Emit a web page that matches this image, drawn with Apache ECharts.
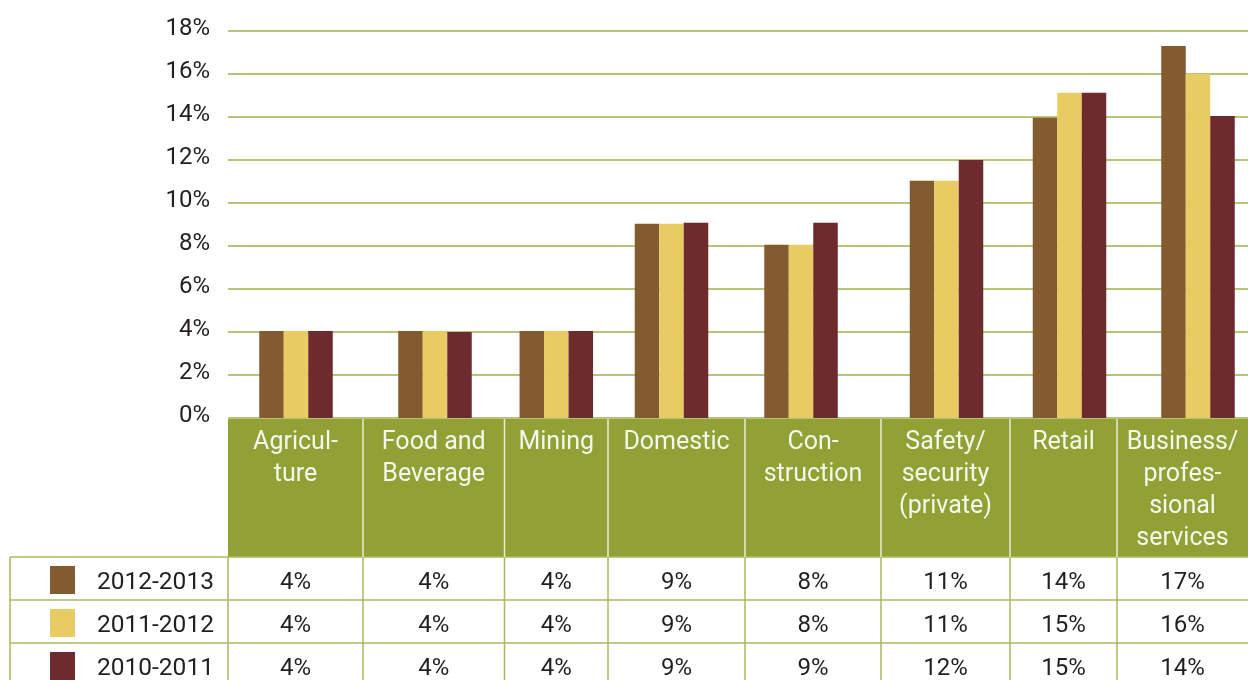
<!DOCTYPE html>
<html>
<head>
<meta charset="utf-8">
<title>Sector shares by year</title>
<script src="https://cdn.jsdelivr.net/npm/echarts@6/dist/echarts.min.js"></script>
<style>
  html, body { margin: 0; padding: 0; background: #ffffff; }
  #chart { width: 1248px; height: 680px; }
</style>
</head>
<body>
<div id="chart"></div>
<script>
// Sector labels as printed in the table header (with their hyphenation)
const categories = [
  'Agricul-\nture',
  'Food and\nBeverage',
  'Mining',
  'Domestic',
  'Con-\nstruction',
  'Safety/\nsecurity\n(private)',
  'Retail',
  'Business/\nprofes-\nsional\nservices'
];

const seriesNames = ['2012-2013', '2011-2012', '2010-2011'];

// Share of each sector, in percent
const share2012_2013 = [4.05, 4.05, 4.05, 9.04, 8.06, 11.04, 13.97, 17.3];
const share2011_2012 = [4.05, 4.05, 4.05, 9.04, 8.06, 11.04, 15.13, 16.0];
const share2010_2011 = [4.05, 4.0, 4.05, 9.08, 9.08, 12.0, 15.13, 14.05];

const yTicks = [0, 2, 4, 6, 8, 10, 12, 14, 16, 18];

// ---- layout (pixels) ----
const seriesData = [share2012_2013, share2011_2012, share2010_2011];
const colors = ['#845A2F', '#E8CB63', '#6D2B2E'];
const plotLeft = 228, plotTop = 31, plotBottom = 418, pageW = 1248;
const colEdges = [228, 363, 504.5, 608, 745, 881, 1010, 1117, 1248];
const groupCenters = [296, 435, 556.3, 671.5, 801, 946.5, 1069.5, 1198];
const headerTop = 419, headerBottom = 557, rowH = 43, tableLeft = 10;
const FONT = 'Roboto, "DejaVu Sans", sans-serif';
const green = '#91A136';
const tableLine = '#A9B860';

const chart = echarts.init(document.getElementById('chart'), null, { renderer: 'canvas' });

const grids = [];
const xAxes = [];
const yAxes = [];
const series = [];

// background grid: value axis labels and horizontal rules
grids.push({ left: plotLeft, right: 0, top: plotTop, bottom: 680 - plotBottom, containLabel: false });
xAxes.push({ gridIndex: 0, type: 'category', data: [''], show: false });
yAxes.push({
  gridIndex: 0, type: 'value', min: yTicks[0], max: yTicks[yTicks.length - 1], interval: yTicks[1] - yTicks[0],
  axisLine: { show: false }, axisTick: { show: false },
  axisLabel: {
    formatter: '{value}%', color: '#231F20', fontSize: 24, fontFamily: FONT,
    margin: 18, verticalAlign: 'bottom', lineHeight: 5
  },
  splitLine: { show: true, lineStyle: { color: '#A0AE4C', width: 1.5 } }
});

// one small grid per sector, so each bar group sits over its table column
categories.forEach((cat, i) => {
  const gi = i + 1;
  grids.push({ left: groupCenters[i] - 45, width: 90, top: plotTop, bottom: 680 - plotBottom });
  xAxes.push({ gridIndex: gi, type: 'category', data: [cat], show: false });
  yAxes.push({ gridIndex: gi, type: 'value', min: yTicks[0], max: yTicks[yTicks.length - 1], show: false, splitLine: { show: false } });
  seriesData.forEach((arr, s) => {
    series.push({
      name: seriesNames[s], type: 'bar', xAxisIndex: gi, yAxisIndex: gi,
      data: [arr[i]], barWidth: 24.5, barGap: '0%',
      itemStyle: { color: colors[s] }, silent: true, animation: false
    });
  });
});

// table below the plot
const graphics = [];
graphics.push({
  type: 'rect', shape: { x: plotLeft, y: headerTop, width: pageW - plotLeft, height: headerBottom - headerTop },
  style: { fill: green }, z: 10
});
// white separators in header
colEdges.slice(1, -1).forEach(x => {
  graphics.push({ type: 'line', shape: { x1: x, y1: headerTop, x2: x, y2: headerBottom }, style: { stroke: '#E9EDD6', lineWidth: 1.5 }, z: 11 });
});
// header labels
categories.forEach((cat, i) => {
  graphics.push({
    type: 'text', x: (colEdges[i] + colEdges[i + 1]) / 2, y: 427, z: 12,
    style: { text: cat, fill: '#F5F7EC', font: '25px ' + FONT, align: 'center', verticalAlign: 'top', lineHeight: 32 }
  });
});
// table rules
const tableBottom = headerBottom + rowH * 3;
for (let r = 0; r <= 3; r++) {
  const y = headerBottom + r * rowH;
  graphics.push({ type: 'line', shape: { x1: tableLeft, y1: y, x2: pageW, y2: y }, style: { stroke: tableLine, lineWidth: 1.5 }, z: 10 });
}
[tableLeft].concat(colEdges.slice(0, -1)).forEach(x => {
  graphics.push({ type: 'line', shape: { x1: x, y1: headerBottom, x2: x, y2: tableBottom }, style: { stroke: tableLine, lineWidth: 1.5 }, z: 10 });
});
// legend cells and values
seriesNames.forEach((name, s) => {
  const top = headerBottom + s * rowH;
  const mid = top + rowH / 2 + 4;
  graphics.push({ type: 'rect', shape: { x: 50, y: top + 9, width: 25, height: 28 }, style: { fill: colors[s] }, z: 11 });
  graphics.push({
    type: 'text', x: 97, y: mid, z: 11,
    style: { text: name, fill: '#231F20', font: '24.5px ' + FONT, align: 'left', verticalAlign: 'middle' }
  });
  seriesData[s].forEach((v, i) => {
    graphics.push({
      type: 'text', x: (colEdges[i] + colEdges[i + 1]) / 2, y: mid, z: 11,
      style: { text: Math.round(v) + '%', fill: '#231F20', font: '24px ' + FONT, align: 'center', verticalAlign: 'middle' }
    });
  });
});

chart.setOption({
  animation: false,
  backgroundColor: '#ffffff',
  grid: grids,
  xAxis: xAxes,
  yAxis: yAxes,
  series: series,
  graphic: { elements: graphics }
});
</script>
</body>
</html>
